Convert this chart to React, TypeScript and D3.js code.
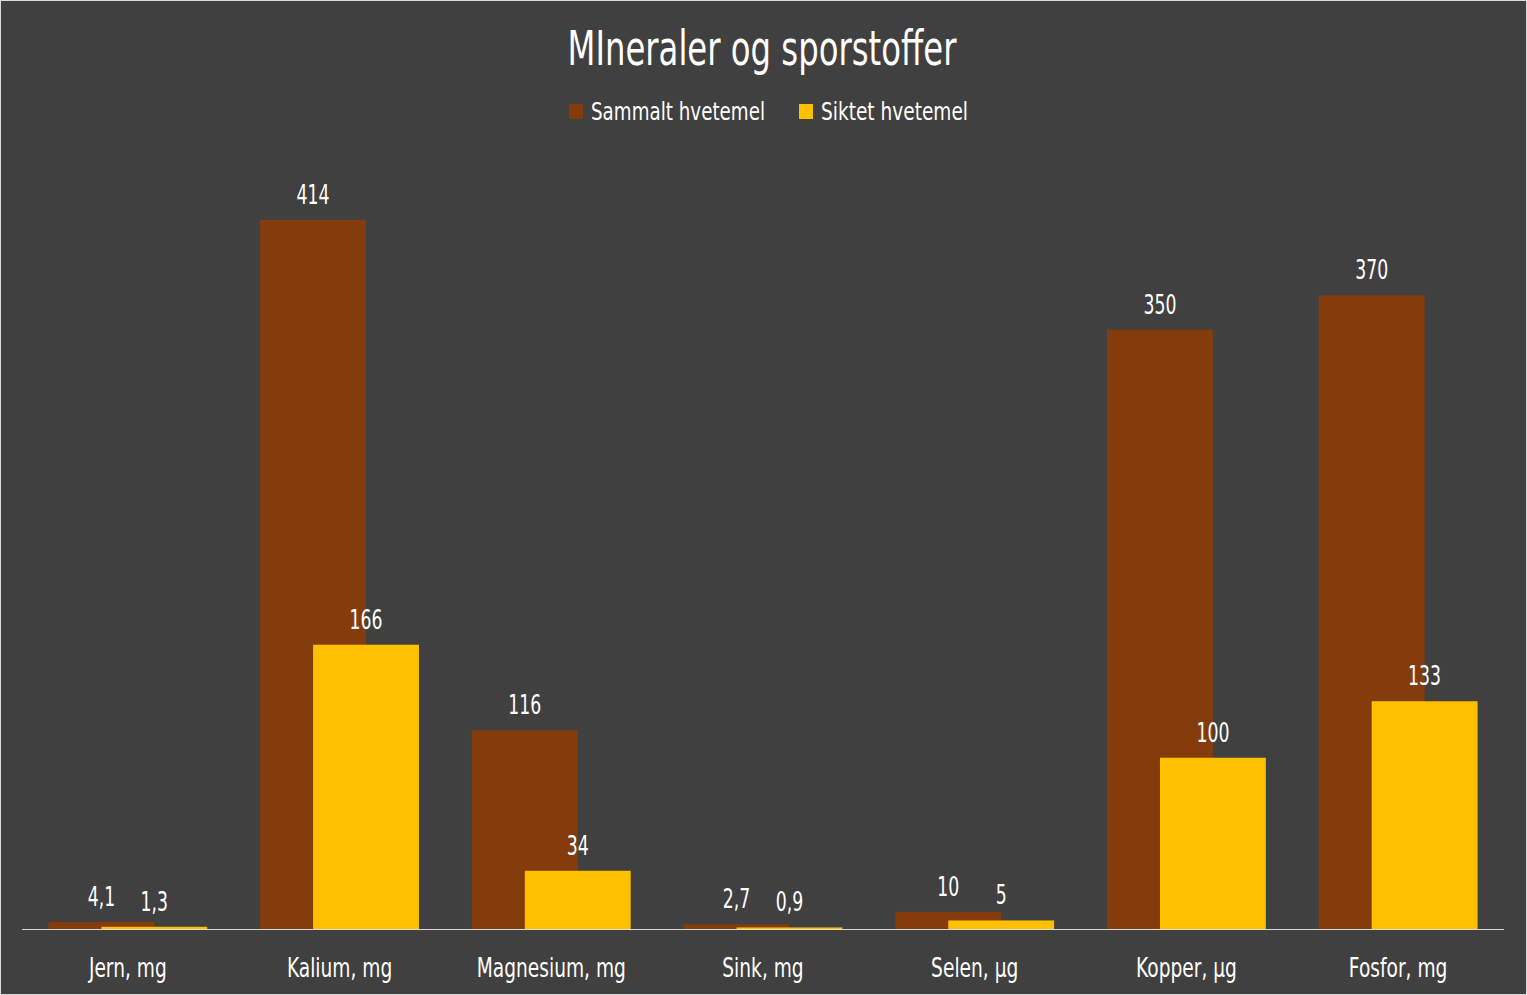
import React from "react";
import * as d3 from "d3";

const categories = ["Jern, mg", "Kalium, mg", "Magnesium, mg", "Sink, mg", "Selen, µg", "Kopper, µg", "Fosfor, mg"];
const sammalt = [4.1, 414, 116, 2.7, 10, 350, 370];
const siktet = [1.3, 166, 34, 0.9, 5, 100, 133];
const seriesNames = ["Sammalt hvetemel", "Siktet hvetemel"];
const colors = ["#843c0c", "#ffc000"];

const W = 1527, H = 995;
const FONT = "'DejaVu Sans', sans-serif";

const fmt = (v: number) => String(v).replace(".", ",");

function Cond({ x, y, sx, size, children, anchor = "middle" }: any) {
  return (
    <text transform={`translate(${x},${y}) scale(${sx},1)`} textAnchor={anchor} fill="#fff" fontSize={size}>
      {children}
    </text>
  );
}

export default function App() {
  const x = d3.scaleBand<string>().domain(categories).range([22, 1504]).paddingInner(0.25).paddingOuter(0.125);
  const y = d3.scaleLinear().domain([0, 414]).range([929, 220]);
  const bw = x.bandwidth() / 1.5;
  const series = [sammalt, siktet];
  return (
    <svg width={W} height={H} style={{ position: "absolute", left: 0, top: 0, fontFamily: FONT }}>
      <rect x={0.5} y={0.5} width={W - 1} height={H - 1} fill="#404040" stroke="#d9d9d9" />
      <text x={762} y={65} textAnchor="middle" fill="#fff" fontSize={48} textLength={389} lengthAdjust="spacingAndGlyphs">MIneraler og sporstoffer</text>
      <g>
        <rect x={569} y={104} width={14} height={15} fill={colors[0]} />
        <text x={591} y={120} fill="#fff" fontSize={25} textLength={174} lengthAdjust="spacingAndGlyphs">{seriesNames[0]}</text>
        <rect x={799} y={104} width={14} height={15} fill={colors[1]} />
        <text x={821} y={120} fill="#fff" fontSize={25} textLength={147} lengthAdjust="spacingAndGlyphs">{seriesNames[1]}</text>
      </g>
      {series.map((vals, si) => (
        <g key={si}>
          {vals.map((v, i) => {
            const bx = (x(categories[i]) as number) + si * bw / 2;
            return (
              <g key={i}>
                <rect x={bx} y={y(v)} width={bw} height={y(0) - y(v)} fill={colors[si]} />
                <Cond x={bx + bw / 2} y={y(v) - 16} sx={0.64} size={27}>{fmt(v)}</Cond>
              </g>
            );
          })}
        </g>
      ))}
      <line x1={22} x2={1504} y1={929.5} y2={929.5} stroke="#d9d9d9" strokeWidth={1} />
      {categories.map((c) => (
        <Cond key={c} x={(x(c) as number) + x.bandwidth() / 2} y={976.5} sx={0.69} size={27}>{c}</Cond>
      ))}
    </svg>
  );
}
